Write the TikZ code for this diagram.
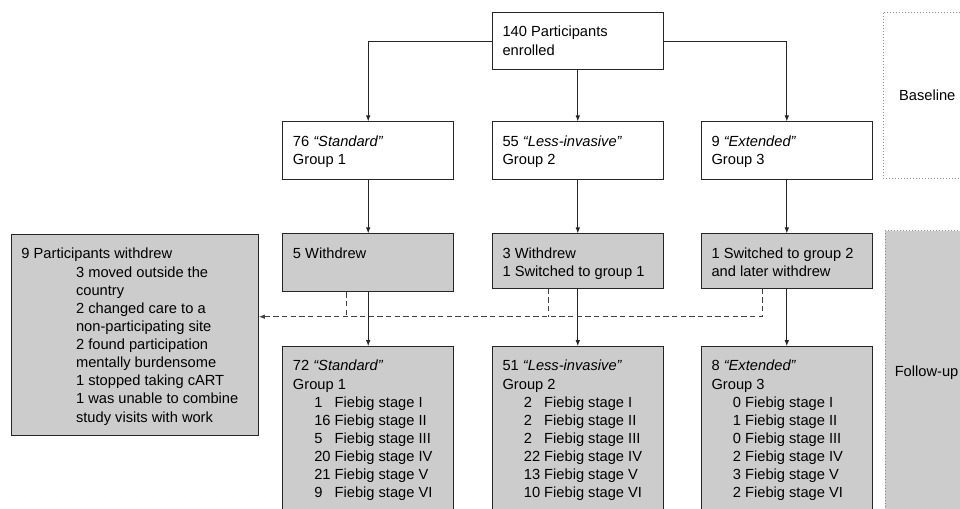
\documentclass[tikz,border=0pt]{standalone}
\usepackage{fontspec}
\setmainfont{Liberation Sans}
\usetikzlibrary{arrows.meta,fit}
\tikzset{
  box/.style={draw=black!85,line width=0.75pt,inner sep=0pt},
  greybox/.style={box,fill=black!20},
  phase/.style={draw=black!45,line width=0.75pt,dash pattern=on 0.75pt off 1.5pt,inner sep=0pt},
  txt/.style={anchor=north west,inner sep=0pt,align=left,font=\fontsize{11}{13.6}\selectfont},
  arr/.style={draw=black!85,line width=0.75pt,-{Latex[length=4.5pt,width=3.4pt]}},
  link/.style={draw=black!75,line width=0.75pt,dash pattern=on 4pt off 2.5pt}
}
\newcommand{\stage}[3][12.2pt]{\hspace*{16pt}\makebox[#1][l]{#2} Fiebig stage #3}

\begin{document}
\begin{tikzpicture}[x=0.75pt,y=-0.75pt]
\useasboundingbox (0,0) rectangle (960,509);
\clip (0,0) rectangle (960,509);

% phases on the right
\node[phase,fit={(883.3,12.3) (975,179)}] (base) {};
\node[txt,anchor=west] (baset) at ([shift={(16,0)}]base.west) {Baseline};
\node[phase,fill=black!20,fit={(885,231) (975,514)}] (follow) {};
\node[txt,anchor=west] (followt) at ([shift={(10,0)}]follow.west) {Follow-up};

% enrolment
\node[box,fit={(492.3,12.7) (663.3,70)}] (enrol) {};
\node[txt] (enrolt) at ([shift={(10.5,11.8)}]enrol.north west) {\strut 140 Participants\\enrolled};

% the three groups
\node[box,fit={(282.7,122) (453.7,179.3)}] (g1) {};
\node[box,fit={(492.3,122) (663.3,179.3)}] (g2) {};
\node[box,fit={(701.3,122) (872.3,179.3)}] (g3) {};
\node[txt] (g1t) at ([shift={(10.5,11.8)}]g1.north west) {\strut 76 \textit{“Standard”}\\Group 1};
\node[txt] (g2t) at ([shift={(10.5,11.8)}]g2.north west) {\strut 55 \textit{“Less-invasive”}\\Group 2};
\node[txt] (g3t) at ([shift={(10.5,11.8)}]g3.north west) {\strut 9 \textit{“Extended”}\\Group 3};

% withdrawals
\node[greybox,fit={(282.7,234) (453.7,291.7)}] (w1) {};
\node[greybox,fit={(492.3,234) (663.3,288.3)}] (w2) {};
\node[greybox,fit={(701.3,234) (872.3,288.3)}] (w3) {};
\node[txt] (w1t) at ([shift={(10.5,11.8)}]w1.north west) {\strut 5 Withdrew};
\node[txt] (w2t) at ([shift={(10.5,11.8)}]w2.north west) {\strut 3 Withdrew\\1 Switched to group 1};
\node[txt] (w3t) at ([shift={(10.5,11.8)}]w3.north west) {\strut 1 Switched to group 2\\and later withdrew};

\node[greybox,fit={(11.7,234.7) (258.3,435)}] (out) {};
\node[txt] (outt) at ([shift={(10,11.8)}]out.north west) {\strut 9 Participants withdrew};
\node[txt] (outl) at ([shift={(64.6,29.9)}]out.north west) {\strut 3 moved outside the\\country\\2 changed care to a\\non-participating site\\2 found participation\\mentally burdensome\\1 stopped taking cART\\1 was unable to combine\\study visits with work};

% groups at follow-up
\node[greybox,fit={(282.7,346.7) (453.7,516)}] (l1) {};
\node[greybox,fit={(492.3,346.7) (663.3,516)}] (l2) {};
\node[greybox,fit={(701.3,346.7) (872.3,516)}] (l3) {};
\node[txt] (l1t) at ([shift={(10.5,11.8)}]l1.north west) {\strut 72 \textit{“Standard”}\\Group 1\\
  \stage{1}{I}\\\stage{16}{II}\\\stage{5}{III}\\\stage{20}{IV}\\\stage{21}{V}\\\stage{9}{VI}};
\node[txt] (l2t) at ([shift={(10.5,11.8)}]l2.north west) {\strut 51 \textit{“Less-invasive”}\\Group 2\\
  \stage{2}{I}\\\stage{2}{II}\\\stage{2}{III}\\\stage{22}{IV}\\\stage{13}{V}\\\stage{10}{VI}};
\node[txt] (l3t) at ([shift={(10.5,11.8)}]l3.north west) {\strut 8 \textit{“Extended”}\\Group 3\\
  \stage[6.12pt]{0}{I}\\\stage[6.12pt]{1}{II}\\\stage[6.12pt]{0}{III}\\\stage[6.12pt]{2}{IV}\\\stage[6.12pt]{3}{V}\\\stage[6.12pt]{2}{VI}};

% connectors
\draw[arr] (enrol.west) -| (g1.north);
\draw[arr] (enrol.east) -| (g3.north);
\draw[arr] (enrol) -- (g2);
\foreach \n in {1,2,3} {
  \draw[arr] (g\n) -- (w\n);
  \draw[arr] (w\n) -- (l\n);
}

\coordinate (j1) at (346,316.7);
\coordinate (j2) at (548.3,316.7);
\coordinate (j3) at (762,316.7);
\draw[link] (w1.south -| j1) -- (j1);
\draw[link] (w2.south -| j2) -- (j2);
\draw[link,-{Latex[length=4.5pt,width=3.4pt]}] (w3.south -| j3) -- (j3) -- (out.east |- j3);

\end{tikzpicture}
\end{document}
